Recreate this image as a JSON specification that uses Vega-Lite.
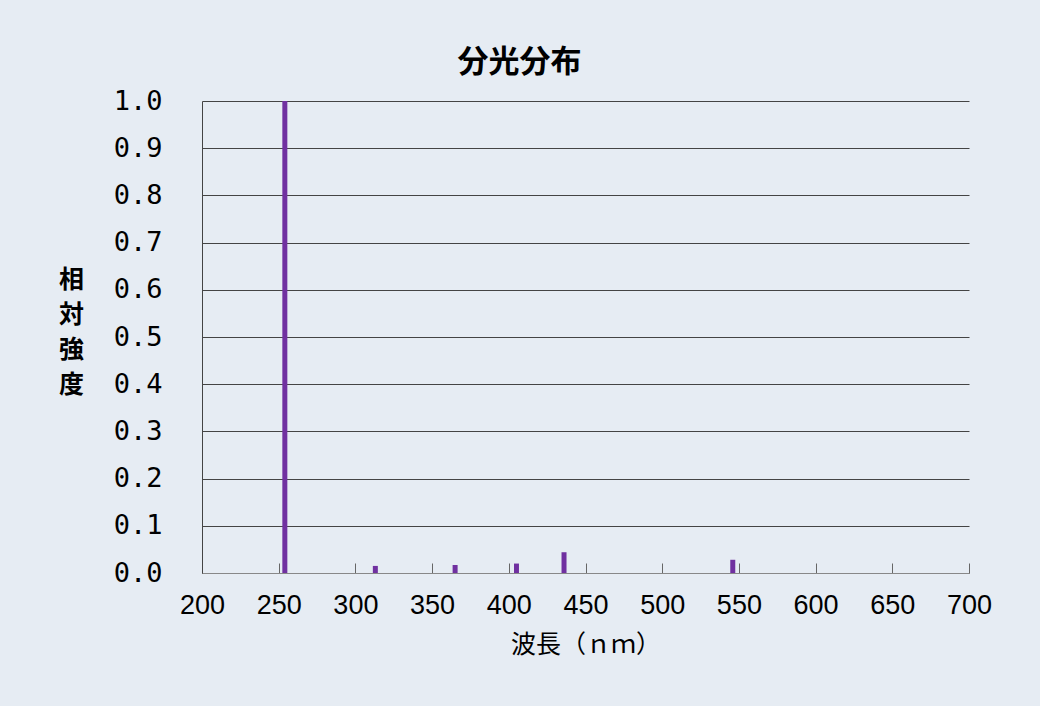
{
  "$schema": "https://vega.github.io/schema/vega-lite/v6.json",
  "description": "分光分布",
  "autosize": {"type": "none"},
  "width": 767,
  "height": 472,
  "padding": {"left": 202, "top": 101, "right": 71, "bottom": 133},
  "background": "#e6ecf3",
  "title": {
    "text": "分光分布",
    "font": "Noto Sans CJK JP",
    "fontSize": 31,
    "fontWeight": "bold",
    "color": "black",
    "anchor": "middle",
    "dx": -66,
    "offset": 8
  },
  "config": {
    "view": {"stroke": null},
    "axis": {"labelColor": "black", "titleColor": "black"}
  },
  "data": {
    "values": [
      {"wavelength": 254, "intensity": 1.0},
      {"wavelength": 313, "intensity": 0.015},
      {"wavelength": 365, "intensity": 0.017},
      {"wavelength": 405, "intensity": 0.02},
      {"wavelength": 436, "intensity": 0.044},
      {"wavelength": 546, "intensity": 0.028}
    ]
  },
  "mark": {"type": "bar", "size": 5, "color": "#7030a0"},
  "encoding": {
    "x": {
      "field": "wavelength",
      "type": "quantitative",
      "scale": {"domain": [200, 700], "nice": false, "padding": 0},
      "axis": {
        "values": [200, 250, 300, 350, 400, 450, 500, 550, 600, 650, 700],
        "grid": false,
        "domainColor": "#888888",
        "tickColor": "#666666",
        "tickSize": -10,
        "labelFlush": false,
        "labelOverlap": false,
        "labelFont": "Liberation Sans",
        "labelFontSize": 27,
        "labelPadding": 29,
        "title": "波長（ｎｍ）",
        "titleFont": "Noto Sans CJK JP",
        "titleFontSize": 25,
        "titleFontWeight": "normal",
        "titlePadding": 14
      }
    },
    "y": {
      "field": "intensity",
      "type": "quantitative",
      "scale": {"domain": [0, 1], "nice": false},
      "axis": {
        "values": [0, 0.1, 0.2, 0.3, 0.4, 0.5, 0.6, 0.7, 0.8, 0.9, 1.0],
        "format": ".1f",
        "grid": true,
        "gridColor": "#444444",
        "gridWidth": 1,
        "domainColor": "#444444",
        "ticks": false,
        "labelFlush": false,
        "labelOverlap": false,
        "labelFont": "DejaVu Sans Mono",
        "labelFontSize": 27,
        "labelPadding": 40,
        "title": ["相", "対", "強", "度"],
        "titleFont": "Noto Sans CJK JP",
        "titleFontSize": 25,
        "titleFontWeight": "bold",
        "titleLineHeight": 35,
        "titleAngle": 0,
        "titleAlign": "center",
        "titleBaseline": "middle",
        "titleX": -131,
        "titleY": 178
      }
    }
  }
}
